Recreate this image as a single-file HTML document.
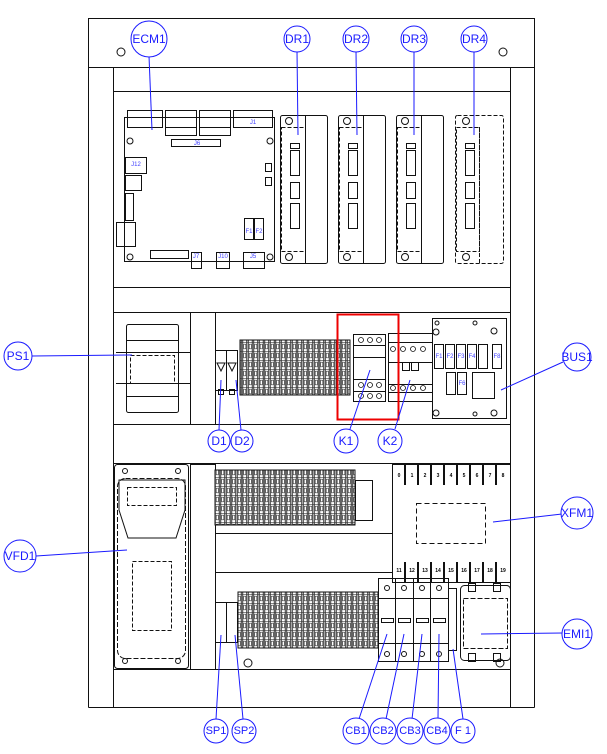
<!DOCTYPE html>
<html><head><meta charset="utf-8"><style>
html,body{margin:0;padding:0;background:#fff;}
svg{display:block;}
text{font-family:"Liberation Sans",sans-serif;}
.l{font-size:12px;fill:#1a1aff;text-anchor:middle;dominant-baseline:central;}
.s{font-size:6px;fill:#4040ff;text-anchor:middle;dominant-baseline:central;}
.t{font-size:5px;fill:#000;font-weight:bold;text-anchor:middle;dominant-baseline:central;}
</style></head><body>
<svg width="607" height="754" viewBox="0 0 607 754" xmlns="http://www.w3.org/2000/svg">
<defs>
<pattern id="tb" x="0" y="0" width="5.5" height="9" patternUnits="userSpaceOnUse">
<rect x="0" y="0" width="5.5" height="9" fill="#fff"/>
<rect x="0.3" y="0" width="0.9" height="9" fill="#222"/>
<rect x="4.3" y="0" width="0.9" height="9" fill="#222"/>
<rect x="1.7" y="2.2" width="2.1" height="4.6" fill="none" stroke="#333" stroke-width="0.6"/>
<line x1="0" y1="0.3" x2="5.5" y2="0.3" stroke="#333" stroke-width="0.6"/>
</pattern>
</defs>
<g fill="none" stroke="#111" stroke-width="1">
<rect x="88.5" y="18.5" width="446" height="49"/>
<line x1="88.5" y1="67.5" x2="88.5" y2="707.5"/>
<line x1="534.5" y1="67.5" x2="534.5" y2="707.5"/>
<line x1="88.5" y1="707.5" x2="534.5" y2="707.5"/>
<line x1="113.5" y1="67.5" x2="113.5" y2="707.5"/>
<line x1="510.5" y1="67.5" x2="510.5" y2="707.5"/>
<line x1="113.5" y1="91.5" x2="510.5" y2="91.5"/>
<line x1="113.5" y1="287.5" x2="510.5" y2="287.5"/>
<line x1="113.5" y1="312.5" x2="510.5" y2="312.5"/>
<line x1="113.5" y1="424.5" x2="510.5" y2="424.5"/>
<line x1="113.5" y1="463.5" x2="510.5" y2="463.5"/>
<line x1="113.5" y1="669.5" x2="510.5" y2="669.5"/>
<circle cx="121" cy="52" r="4"/><circle cx="503" cy="52" r="4"/>

<rect x="124.5" y="117.5" width="150" height="144"/>
<rect x="127.5" y="110.5" width="35" height="17"/>
<rect x="165.5" y="110.5" width="31" height="25"/><line x1="165" y1="127.5" x2="197" y2="127.5"/>
<rect x="199.5" y="110.5" width="31" height="25"/><line x1="199" y1="127.5" x2="231" y2="127.5"/>
<rect x="233.5" y="110.5" width="39" height="17"/>
<rect x="171.5" y="139.5" width="49" height="7"/>
<rect x="125.5" y="157.5" width="21" height="16"/>
<rect x="125.5" y="175.5" width="16" height="15"/>
<rect x="125.5" y="193.5" width="8" height="27"/>
<rect x="116.5" y="222.5" width="19" height="24"/>
<rect x="150.5" y="250.5" width="38" height="8"/>
<rect x="191.5" y="252.5" width="10" height="16"/>
<rect x="216.5" y="252.5" width="13" height="16"/>
<rect x="243.5" y="252.5" width="21" height="16"/>
<rect x="244.5" y="218.5" width="9" height="21"/><rect x="254.5" y="218.5" width="9" height="21"/>
<rect x="265.5" y="163.5" width="6" height="8"/><rect x="265.5" y="177.5" width="6" height="8"/>
<circle cx="130" cy="141" r="3"/><circle cx="270" cy="141" r="3"/><circle cx="130" cy="257" r="3"/><circle cx="270" cy="257" r="3"/>

<g id="dr">
<rect x="280.5" y="115.5" width="47" height="148" rx="2"/>
<line x1="305.5" y1="115" x2="305.5" y2="264"/>
<rect x="281.5" y="127.5" width="24" height="124" stroke-dasharray="4,2"/>
<rect x="290.5" y="143.5" width="9" height="5"/>
<rect x="290.5" y="150.5" width="9" height="25"/>
<rect x="290.5" y="182.5" width="9" height="16"/>
<rect x="290.5" y="203.5" width="9" height="25"/>
<circle cx="289" cy="121" r="3.5"/><circle cx="289" cy="257" r="3.5"/>
</g>
<use href="#dr" x="58"/><use href="#dr" x="116"/>
<g stroke-dasharray="4,2">
<rect x="455.5" y="115.5" width="48" height="148" rx="2"/>
<line x1="479.5" y1="127" x2="479.5" y2="264"/>
<rect x="456.5" y="127.5" width="23" height="124"/>
</g>
<rect x="465.5" y="143.5" width="9" height="5"/><rect x="465.5" y="150.5" width="9" height="25"/><rect x="465.5" y="182.5" width="9" height="16"/><rect x="465.5" y="203.5" width="9" height="25"/>
<circle cx="466" cy="121" r="3.5"/><circle cx="466" cy="257" r="3.5"/>

<rect x="126.5" y="324.5" width="52" height="88" rx="2"/>
<line x1="126" y1="340.5" x2="179" y2="340.5"/><line x1="126" y1="396.5" x2="179" y2="396.5"/>
<line x1="116" y1="352.5" x2="190" y2="352.5"/><line x1="116" y1="383.5" x2="190" y2="383.5"/>
<rect x="130.5" y="355.5" width="44" height="28" stroke-dasharray="4,2"/>
<rect x="190.5" y="312.5" width="25" height="112"/>
<rect x="215.5" y="350.5" width="11" height="40"/><rect x="226.5" y="350.5" width="11" height="40"/>
<path d="M217 363 l4 8 l4 -8 z M228 363 l4 8 l4 -8 z"/>
<rect x="218.5" y="389.5" width="5" height="5"/><rect x="229.5" y="389.5" width="5" height="5"/>
<rect x="240" y="340" width="110" height="55" fill="url(#tb)" stroke="#111"/>
<rect x="353.5" y="334.5" width="32" height="67"/>
<line x1="353" y1="345.5" x2="386" y2="345.5"/><line x1="353" y1="357.5" x2="386" y2="357.5"/>
<line x1="353" y1="379.5" x2="386" y2="379.5"/><line x1="353" y1="391.5" x2="386" y2="391.5"/>
<rect x="388.5" y="333.5" width="44" height="68"/>
<line x1="388" y1="342.5" x2="433" y2="342.5"/><line x1="388" y1="362.5" x2="433" y2="362.5"/><line x1="388" y1="384.5" x2="433" y2="384.5"/><line x1="388" y1="392.5" x2="433" y2="392.5"/>
<rect x="402.5" y="362.5" width="7" height="8"/><rect x="411.5" y="362.5" width="7" height="8"/>
<g stroke-width="0.8"><circle cx="393" cy="349" r="2.5"/><circle cx="403" cy="349" r="2.5"/><circle cx="413" cy="349" r="2.5"/><circle cx="423" cy="349" r="2.5"/><circle cx="393" cy="388" r="2.5"/><circle cx="403" cy="388" r="2.5"/><circle cx="413" cy="388" r="2.5"/><circle cx="423" cy="388" r="2.5"/>
<circle cx="361" cy="340" r="2.5"/><circle cx="370" cy="340" r="2.5"/><circle cx="379" cy="340" r="2.5"/><circle cx="361" cy="396" r="2.5"/><circle cx="370" cy="396" r="2.5"/><circle cx="379" cy="396" r="2.5"/><circle cx="361" cy="385" r="2.5"/><circle cx="370" cy="385" r="2.5"/><circle cx="379" cy="385" r="2.5"/></g>
<rect x="432.5" y="318.5" width="74" height="100"/>
<rect x="434.5" y="344.5" width="9" height="24"/><rect x="445.5" y="344.5" width="9" height="24"/><rect x="456.5" y="344.5" width="9" height="24"/><rect x="467.5" y="344.5" width="9" height="24"/><rect x="478.5" y="344.5" width="9" height="24"/><rect x="492.5" y="344.5" width="9" height="24"/>
<rect x="446.5" y="372.5" width="9" height="22"/><rect x="457.5" y="372.5" width="9" height="22"/>
<rect x="472.5" y="372.5" width="22" height="26"/>
<circle cx="437" cy="323" r="2"/><circle cx="475" cy="323" r="2"/><circle cx="475" cy="414" r="2"/><circle cx="436" cy="332" r="3"/><circle cx="494" cy="331" r="3"/><circle cx="436" cy="413" r="3"/><circle cx="494" cy="413" r="3"/>

<rect x="114.5" y="464.5" width="74" height="204" rx="3"/>
<rect x="117.5" y="478.5" width="68" height="180" rx="8" stroke-dasharray="5,2"/>
<path d="M119 480 L185 480 L185 510 L176 538 L128 538 L119 510 Z"/>
<rect x="127.5" y="487.5" width="49" height="18" stroke-dasharray="4,2"/>
<rect x="132.5" y="561.5" width="39" height="69" stroke-dasharray="4,2"/>
<circle cx="125" cy="471" r="2.5"/><circle cx="178" cy="471" r="2.5"/><circle cx="125" cy="661" r="2.5"/><circle cx="178" cy="661" r="2.5"/>
<rect x="190.5" y="464.5" width="25" height="205"/>
<rect x="215" y="470" width="140" height="55" fill="url(#tb)" stroke="#111"/>
<rect x="355.5" y="480.5" width="17" height="40"/>
<rect x="215.5" y="533.5" width="177" height="39"/>
<rect x="392.5" y="464.5" width="118" height="118"/>
<g stroke-width="2">
<line x1="405" y1="465" x2="405" y2="485"/><line x1="418" y1="465" x2="418" y2="485"/><line x1="431" y1="465" x2="431" y2="485"/><line x1="444" y1="465" x2="444" y2="485"/><line x1="457" y1="465" x2="457" y2="485"/><line x1="470" y1="465" x2="470" y2="485"/><line x1="483" y1="465" x2="483" y2="485"/><line x1="496" y1="465" x2="496" y2="485"/>
<line x1="405" y1="562" x2="405" y2="582"/><line x1="418" y1="562" x2="418" y2="582"/><line x1="431" y1="562" x2="431" y2="582"/><line x1="444" y1="562" x2="444" y2="582"/><line x1="457" y1="562" x2="457" y2="582"/><line x1="470" y1="562" x2="470" y2="582"/><line x1="483" y1="562" x2="483" y2="582"/><line x1="496" y1="562" x2="496" y2="582"/>
</g>
<rect x="416.5" y="503.5" width="69" height="40" stroke-dasharray="5,3"/>
<rect x="215.5" y="602.5" width="11" height="40"/><rect x="226.5" y="602.5" width="11" height="40"/>
<rect x="238" y="592" width="140" height="56" fill="url(#tb)" stroke="#111"/>
<circle cx="248" cy="663" r="4"/><circle cx="500" cy="663" r="4"/>
<rect x="378.5" y="578.5" width="70" height="83"/>
<line x1="395.5" y1="578" x2="395.5" y2="662"/><line x1="413.5" y1="578" x2="413.5" y2="662"/><line x1="430.5" y1="578" x2="430.5" y2="662"/>
<line x1="378" y1="598.5" x2="449" y2="598.5"/><line x1="378" y1="643.5" x2="449" y2="643.5"/>
<rect x="381.5" y="618.5" width="12" height="4"/><rect x="398.5" y="618.5" width="12" height="4"/><rect x="416.5" y="618.5" width="12" height="4"/><rect x="433.5" y="618.5" width="12" height="4"/>
<circle cx="387" cy="588" r="2.5"/><circle cx="404" cy="588" r="2.5"/><circle cx="422" cy="588" r="2.5"/><circle cx="439" cy="588" r="2.5"/>
<circle cx="387" cy="654" r="2.5"/><circle cx="404" cy="654" r="2.5"/><circle cx="422" cy="654" r="2.5"/><circle cx="439" cy="654" r="2.5"/>
<rect x="448.5" y="588.5" width="8" height="62"/>
<rect x="460.5" y="585.5" width="50" height="75" rx="4"/>
<rect x="463.5" y="598.5" width="44" height="50" stroke-dasharray="5,2"/>
<rect x="468.5" y="583.5" width="7" height="8"/><rect x="493.5" y="583.5" width="7" height="8"/><rect x="468.5" y="653.5" width="7" height="8"/><rect x="493.5" y="653.5" width="7" height="8"/>
</g>
<rect x="337.5" y="314.5" width="61" height="105" fill="none" stroke="#e00" stroke-width="2"/>

<text class="s" x="253" y="123">J1</text><text class="s" x="197" y="144">J6</text><text class="s" x="136" y="165">J12</text>
<text class="s" x="249" y="232">F1</text><text class="s" x="259" y="232">F2</text><text class="s" x="196" y="257">J7</text><text class="s" x="223" y="257">J10</text><text class="s" x="253" y="257">J5</text>
<text class="s" x="439" y="357">F1</text><text class="s" x="450" y="357">F2</text><text class="s" x="461" y="357">F3</text><text class="s" x="472" y="357">F4</text><text class="s" x="497" y="357">F8</text><text class="s" x="462" y="384">F6</text>
<text class="t" x="399" y="476">0</text><text class="t" x="412" y="476">1</text><text class="t" x="425" y="476">2</text><text class="t" x="438" y="476">3</text><text class="t" x="451" y="476">4</text><text class="t" x="464" y="476">5</text><text class="t" x="477" y="476">6</text><text class="t" x="490" y="476">7</text><text class="t" x="503" y="476">8</text>
<text class="t" x="399" y="571">11</text><text class="t" x="412" y="571">12</text><text class="t" x="425" y="571">13</text><text class="t" x="438" y="571">14</text><text class="t" x="451" y="571">15</text><text class="t" x="464" y="571">16</text><text class="t" x="477" y="571">17</text><text class="t" x="490" y="571">18</text><text class="t" x="503" y="571">19</text>

<g stroke="#1a1aff" stroke-width="1" fill="none">
<line x1="149" y1="56" x2="152" y2="130"/>
<line x1="297" y1="51" x2="298" y2="135"/><line x1="356" y1="51" x2="357" y2="135"/><line x1="414" y1="51" x2="414" y2="135"/><line x1="474" y1="51" x2="474" y2="135"/>
<line x1="32" y1="356" x2="132" y2="355"/>
<line x1="563" y1="362" x2="501" y2="390"/>
<line x1="219" y1="430" x2="221" y2="380"/><line x1="241" y1="430" x2="236" y2="380"/>
<line x1="350" y1="429" x2="370" y2="370"/><line x1="395" y1="429" x2="410" y2="380"/>
<line x1="36" y1="556" x2="127" y2="550"/>
<line x1="562" y1="514" x2="493" y2="522"/>
<line x1="563" y1="633" x2="481" y2="634"/>
<line x1="216" y1="719" x2="221" y2="635"/><line x1="243" y1="719" x2="235" y2="635"/>
<line x1="359" y1="719" x2="387" y2="634"/><line x1="386" y1="719" x2="404" y2="634"/><line x1="412" y1="719" x2="422" y2="634"/><line x1="438" y1="719" x2="439" y2="634"/><line x1="463" y1="719" x2="453" y2="649"/>
</g>
<g fill="#fff" stroke="#1a1aff" stroke-width="1">
<circle cx="149" cy="39" r="18"/>
<circle cx="297" cy="39" r="13"/><circle cx="356" cy="39" r="13"/><circle cx="414" cy="39" r="13"/><circle cx="474" cy="39" r="13"/>
<circle cx="18" cy="356" r="14"/><circle cx="577" cy="357" r="14"/>
<circle cx="219" cy="441" r="11"/><circle cx="242" cy="441" r="11"/><circle cx="346" cy="441" r="12"/><circle cx="390" cy="441" r="12"/>
<circle cx="20" cy="556" r="16"/><circle cx="577" cy="513" r="16"/><circle cx="577" cy="634" r="15"/>
<circle cx="216" cy="731" r="12"/><circle cx="244" cy="731" r="12"/>
<circle cx="356" cy="731" r="13"/><circle cx="383" cy="731" r="13"/><circle cx="410" cy="731" r="13"/><circle cx="437" cy="731" r="13"/><circle cx="463" cy="731" r="12"/>
</g>
<text class="l" x="149" y="39">ECM1</text>
<text class="l" x="297" y="39">DR1</text><text class="l" x="356" y="39">DR2</text><text class="l" x="414" y="39">DR3</text><text class="l" x="474" y="39">DR4</text>
<text class="l" x="18" y="356">PS1</text><text class="l" x="577" y="357">BUS1</text>
<text class="l" x="219" y="441">D1</text><text class="l" x="242" y="441">D2</text><text class="l" x="346" y="441">K1</text><text class="l" x="390" y="441">K2</text>
<text class="l" x="20" y="556">VFD1</text><text class="l" x="577" y="513">XFM1</text><text class="l" x="577" y="634">EMI1</text>
<text class="l" x="216" y="731" style="font-size:11px">SP1</text><text class="l" x="244" y="731" style="font-size:11px">SP2</text>
<text class="l" x="356" y="731" style="font-size:11px">CB1</text><text class="l" x="383" y="731" style="font-size:11px">CB2</text><text class="l" x="410" y="731" style="font-size:11px">CB3</text><text class="l" x="437" y="731" style="font-size:11px">CB4</text><text class="l" x="463" y="731" style="font-size:11px">F 1</text>
</svg>
</body></html>
